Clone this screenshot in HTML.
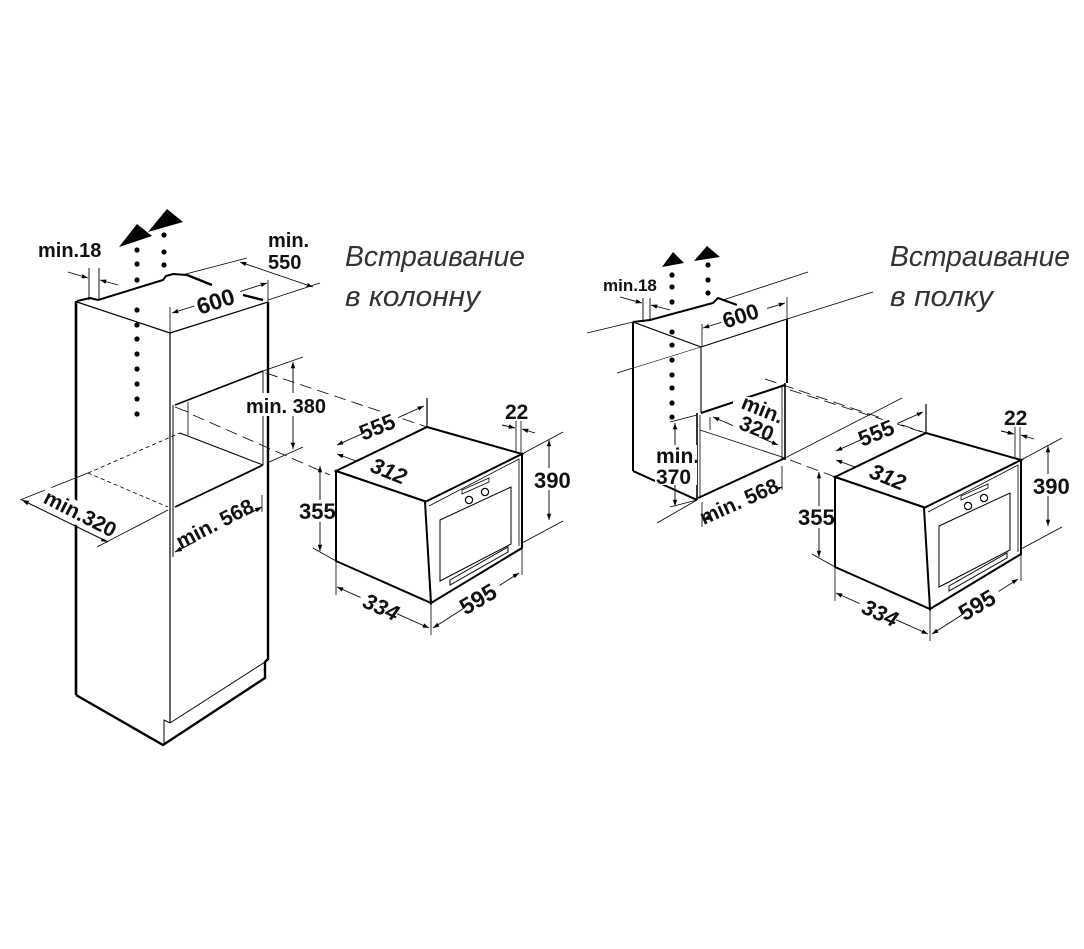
<!DOCTYPE html>
<html><head><meta charset="utf-8"><style>
html,body{margin:0;padding:0;background:#fff;}
svg{display:block}
.t{font-family:"Liberation Sans Narrow","Liberation Sans",sans-serif;font-weight:bold;fill:#111;}
.h{font-family:"Liberation Sans","DejaVu Sans",sans-serif;font-style:italic;fill:#333;font-size:29px;}
</style></head><body>
<svg width="1084" height="949" viewBox="0 0 1084 949" xmlns="http://www.w3.org/2000/svg">
<defs>
<marker id="a" viewBox="0 0 10 10" refX="10" refY="5" markerWidth="7" markerHeight="7" orient="auto-start-reverse"><path d="M0,1.5 L10,5 L0,8.5z" fill="#000"/></marker>
<g id="oven">
 <line x1="266" y1="373" x2="427" y2="427" stroke="#000" stroke-width="0.8" stroke-dasharray="12,6"/>
 <line x1="427" y1="398" x2="427" y2="427" stroke="#000" stroke-width="1.2"/>
 <line x1="337" y1="445" x2="424" y2="406" stroke="#000" stroke-width="0.9" marker-start="url(#a)" marker-end="url(#a)"/>
 <line x1="337" y1="454" x2="424" y2="486" stroke="#000" stroke-width="0.9" marker-start="url(#a)" marker-end="url(#a)"/>
 <line x1="320" y1="466" x2="320" y2="551" stroke="#000" stroke-width="0.9" marker-start="url(#a)" marker-end="url(#a)"/>
 <line x1="313" y1="548" x2="336" y2="561" stroke="#000" stroke-width="0.8"/>
 <line x1="336" y1="561" x2="336" y2="595" stroke="#000" stroke-width="0.8"/>
 <line x1="431" y1="603" x2="431" y2="635" stroke="#000" stroke-width="0.8"/>
 <line x1="337" y1="587" x2="429" y2="628" stroke="#000" stroke-width="0.9" marker-start="url(#a)" marker-end="url(#a)"/>
 <line x1="433" y1="628" x2="519" y2="573" stroke="#000" stroke-width="0.9" marker-start="url(#a)" marker-end="url(#a)"/>
 <line x1="522" y1="548" x2="522" y2="575" stroke="#000" stroke-width="0.8"/>
 <line x1="516" y1="421" x2="516" y2="454" stroke="#000" stroke-width="0.8"/>
 <line x1="521" y1="421" x2="521" y2="454" stroke="#000" stroke-width="0.8"/>
 <line x1="502" y1="425" x2="515" y2="428" stroke="#000" stroke-width="0.9" marker-end="url(#a)"/>
 <line x1="535" y1="433" x2="522" y2="429" stroke="#000" stroke-width="0.9" marker-end="url(#a)"/>
 <line x1="522" y1="454" x2="563" y2="432" stroke="#000" stroke-width="0.8"/>
 <line x1="522" y1="543" x2="563" y2="521" stroke="#000" stroke-width="0.8"/>
 <line x1="549" y1="440" x2="549" y2="520" stroke="#000" stroke-width="0.9" marker-start="url(#a)" marker-end="url(#a)"/>
 <polygon points="336,471 427,427 522,454 427,502" fill="#fff" stroke="#000" stroke-width="2"/>
 <polygon points="336,471 427,502 431,603 336,561" fill="#fff" stroke="#000" stroke-width="2"/>
 <polygon points="425,502 522,454 522,548 431,603" fill="#fff" stroke="#000" stroke-width="2"/>
 <polyline points="429,506 519,459 519,546" fill="none" stroke="#000" stroke-width="0.8"/>
 <polygon points="440,520 511,487 511,544 440,581" fill="none" stroke="#000" stroke-width="1"/>
 <polygon points="462,490 489,478 489,482 462,494" fill="#fff" stroke="#000" stroke-width="0.8"/>
 <circle cx="469" cy="500" r="3.6" fill="#fff" stroke="#000" stroke-width="1.2"/>
 <circle cx="485" cy="492" r="3.6" fill="#fff" stroke="#000" stroke-width="1.2"/>
 <polygon points="450,580 508,547 508,552 450,585" fill="#fff" stroke="#000" stroke-width="1"/>
 <rect x="362" y="416" width="38" height="20" fill="#fff" transform="rotate(-22 380 426)"/>
 <rect x="368" y="461" width="38" height="20" fill="#fff" transform="rotate(22 386 470)"/>
 <rect x="359" y="596" width="40" height="20" fill="#fff" transform="rotate(24 378 605)"/>
 <rect x="461" y="587" width="42" height="22" fill="#fff" transform="rotate(-30 482 597)"/>
 <rect x="298" y="500" width="34" height="22" fill="#fff"/>
 <text class="t" font-size="22" transform="translate(380,434) rotate(-22)" text-anchor="middle">555</text>
 <text class="t" font-size="22" transform="translate(386,478) rotate(22)" text-anchor="middle" font-style="italic">312</text>
 <text class="t" font-size="22" x="299" y="519">355</text>
 <text class="t" font-size="22" transform="translate(378,614) rotate(24)" text-anchor="middle" font-style="italic">334</text>
 <text class="t" font-size="23" transform="translate(482,606) rotate(-30)" text-anchor="middle">595</text>
 <text class="t" font-size="21" x="505" y="419">22</text>
 <rect x="533" y="468" width="36" height="22" fill="#fff"/>
 <text class="t" font-size="22" x="534" y="488">390</text>
</g>
</defs>

<g stroke="#000" fill="none">
 <line x1="20" y1="500" x2="88" y2="473" stroke-width="0.8"/>
 <line x1="88" y1="473" x2="180" y2="433" stroke-width="0.8" stroke-dasharray="4,3"/>
 <line x1="88" y1="473" x2="168" y2="507" stroke-width="0.8" stroke-dasharray="4,3"/>
 <line x1="97" y1="547" x2="168" y2="510" stroke-width="0.8"/>
 <line x1="22" y1="500" x2="108" y2="542" stroke-width="1" marker-start="url(#a)" marker-end="url(#a)"/>
 <line x1="76" y1="301" x2="76" y2="695" stroke-width="2.6"/>
 <polyline points="76,695 163,745 265,678 265,662 268,659 268,302" stroke-width="2.4"/>
 <line x1="170" y1="333" x2="170" y2="723" stroke-width="1.2"/>
 <polyline points="170,723 164,720 164,745" stroke-width="1"/>
 <line x1="170" y1="723" x2="265" y2="662" stroke-width="1"/>
 <line x1="77" y1="302" x2="170" y2="333" stroke-width="1.2"/>
 <line x1="170" y1="333" x2="268" y2="302" stroke-width="1.2"/>
 <polyline points="77,301 90,298 98,300 163,280 166,276 173,274 187,275" stroke-width="2"/>
 <line x1="187" y1="275" x2="212" y2="285" stroke-width="2.4"/>
 <line x1="243" y1="295" x2="263" y2="300" stroke-width="2.4"/>
 <line x1="175" y1="405" x2="263" y2="371" stroke-width="1.6"/>
 <line x1="173" y1="405" x2="173" y2="557" stroke-width="1"/>
 <line x1="188" y1="402" x2="188" y2="435" stroke-width="0.8"/>
 <line x1="175" y1="407" x2="188" y2="412" stroke-width="0.8"/>
 <line x1="180" y1="433" x2="263" y2="465" stroke-width="1.1"/>
 <line x1="175" y1="507" x2="263" y2="465" stroke-width="1.8"/>
 <line x1="263" y1="371" x2="263" y2="465" stroke-width="0.9"/>
 <line x1="193" y1="415" x2="330" y2="475" stroke-width="0.8" stroke-dasharray="12,6"/>
 <line x1="263" y1="371" x2="303" y2="357" stroke-width="0.8"/>
 <line x1="267" y1="463" x2="303" y2="447" stroke-width="0.8"/>
 <line x1="293" y1="362" x2="293" y2="449" stroke-width="0.9" marker-start="url(#a)" marker-end="url(#a)"/>
 <line x1="175" y1="552" x2="262" y2="507" stroke-width="1" marker-start="url(#a)" marker-end="url(#a)"/>
 <line x1="262" y1="495" x2="262" y2="512" stroke-width="0.8"/>
 <line x1="89" y1="268" x2="89" y2="300" stroke-width="0.9"/>
 <line x1="99" y1="268" x2="99" y2="300" stroke-width="0.9"/>
 <line x1="68" y1="272" x2="88" y2="278" stroke-width="0.9" marker-end="url(#a)"/>
 <line x1="118" y1="285" x2="100" y2="280" stroke-width="0.9" marker-end="url(#a)"/>
 <line x1="170" y1="307" x2="170" y2="333" stroke-width="0.8"/>
 <line x1="268" y1="280" x2="268" y2="302" stroke-width="0.8"/>
 <line x1="172" y1="313" x2="267" y2="283" stroke-width="0.9" marker-start="url(#a)" marker-end="url(#a)"/>
 <line x1="182" y1="275" x2="247" y2="258" stroke-width="0.8"/>
 <line x1="268" y1="300" x2="320" y2="283" stroke-width="0.8"/>
 <line x1="240" y1="262" x2="313" y2="287" stroke-width="0.9" marker-start="url(#a)" marker-end="url(#a)"/>
</g>
<rect x="194" y="288" width="48" height="24" fill="#fff" transform="rotate(-18 218 301)"/>
<rect x="190" y="511" width="56" height="22" fill="#fff" transform="rotate(-27 218 522)"/>
<rect x="38" y="502" width="78" height="22" fill="#fff" transform="rotate(27 77 513)"/>
<rect x="246" y="393" width="77" height="23" fill="#fff"/>
<g fill="#000">
 <circle cx="137" cy="250" r="2.6"/><circle cx="137" cy="264" r="2.6"/><circle cx="137" cy="280" r="2.6"/>
 <circle cx="137" cy="310" r="2.6"/><circle cx="137" cy="325" r="2.6"/><circle cx="137" cy="339" r="2.6"/>
 <circle cx="137" cy="354" r="2.6"/><circle cx="137" cy="369" r="2.6"/><circle cx="137" cy="384" r="2.6"/>
 <circle cx="137" cy="399" r="2.6"/><circle cx="137" cy="414" r="2.6"/>
 <circle cx="164" cy="235" r="2.6"/><circle cx="164" cy="252" r="2.6"/><circle cx="164" cy="265" r="2.6"/>
 <polygon points="119,247 137,224 152,236"/>
 <polygon points="148,232 167,209 183,222"/>
</g>
<text class="t" font-size="20" x="38" y="257">min.18</text>
<text class="t" font-size="20" x="268" y="247">min.</text>
<text class="t" font-size="20" x="268" y="269">550</text>
<text class="t" font-size="23" transform="translate(218,309) rotate(-18)" text-anchor="middle">600</text>
<text class="t" font-size="20" x="246" y="413">min. 380</text>
<text class="t" font-size="21" transform="translate(77,520) rotate(27)" text-anchor="middle">min.320</text>
<text class="t" font-size="21" transform="translate(218,530) rotate(-27)" text-anchor="middle">min. 568</text>
<text class="h" x="345" y="266" textLength="180" lengthAdjust="spacingAndGlyphs">Встраивание</text>
<text class="h" x="345" y="306" textLength="135" lengthAdjust="spacingAndGlyphs">в колонну</text>

<use href="#oven"/>

<g stroke="#000" fill="none">
 <line x1="587" y1="333" x2="633" y2="322" stroke-width="0.8"/>
 <line x1="723" y1="300" x2="808" y2="272" stroke-width="0.8"/>
 <line x1="617" y1="373" x2="633" y2="368" stroke-width="0.8"/>
 <line x1="633" y1="368" x2="701" y2="347" stroke-width="0.6"/>
 <line x1="787" y1="319" x2="873" y2="292" stroke-width="0.8"/>
 <line x1="657" y1="523" x2="697" y2="500" stroke-width="0.8"/>
 <line x1="785" y1="458" x2="902" y2="398" stroke-width="0.8"/>
 <line x1="790" y1="390" x2="925" y2="433" stroke-width="0.8" stroke-dasharray="12,6"/>
 <line x1="790" y1="460" x2="838" y2="478" stroke-width="0.8" stroke-dasharray="12,6"/>
 <line x1="633" y1="322" x2="633" y2="471" stroke-width="2"/>
 <line x1="633" y1="471" x2="697" y2="500" stroke-width="2"/>
 <line x1="633" y1="322" x2="701" y2="347" stroke-width="1.1"/>
 <line x1="701" y1="347" x2="787" y2="319" stroke-width="1.1"/>
 <line x1="701" y1="347" x2="701" y2="413" stroke-width="1.1"/>
 <line x1="787" y1="319" x2="787" y2="383" stroke-width="2"/>
 <polyline points="633,322 650,320 713,303 718,298 737,305" stroke-width="2"/>
 <line x1="701" y1="413" x2="785" y2="385" stroke-width="2"/>
 <line x1="697" y1="413" x2="697" y2="500" stroke-width="1.6"/>
 <line x1="700" y1="415" x2="700" y2="497" stroke-width="0.8"/>
 <line x1="710" y1="417" x2="710" y2="430" stroke-width="0.8"/>
 <line x1="700" y1="430" x2="785" y2="458" stroke-width="0.8"/>
 <line x1="698" y1="498" x2="785" y2="458" stroke-width="2"/>
 <line x1="782" y1="385" x2="782" y2="460" stroke-width="0.8"/>
 <line x1="785" y1="383" x2="785" y2="460" stroke-width="1.6"/>
 <line x1="643" y1="298" x2="643" y2="322" stroke-width="0.9"/>
 <line x1="650" y1="298" x2="650" y2="320" stroke-width="0.9"/>
 <line x1="620" y1="297" x2="642" y2="303" stroke-width="0.9" marker-end="url(#a)"/>
 <line x1="670" y1="310" x2="651" y2="305" stroke-width="0.9" marker-end="url(#a)"/>
 <line x1="702" y1="324" x2="702" y2="347" stroke-width="0.8"/>
 <line x1="787" y1="297" x2="787" y2="319" stroke-width="0.8"/>
 <line x1="703" y1="328" x2="785" y2="303" stroke-width="0.9" marker-start="url(#a)" marker-end="url(#a)"/>
 <line x1="713" y1="417" x2="778" y2="445" stroke-width="0.9" marker-start="url(#a)" marker-end="url(#a)"/>
 <line x1="670" y1="422" x2="697" y2="415" stroke-width="0.8"/>
 <line x1="670" y1="507" x2="697" y2="500" stroke-width="0.8"/>
 <line x1="675" y1="423" x2="675" y2="506" stroke-width="0.9" marker-start="url(#a)" marker-end="url(#a)"/>
 <line x1="702" y1="502" x2="702" y2="527" stroke-width="0.8"/>
 <line x1="782" y1="466" x2="782" y2="490" stroke-width="0.8"/>
 <line x1="703" y1="520" x2="782" y2="487" stroke-width="1" marker-start="url(#a)" marker-end="url(#a)"/>
</g>
<rect x="720" y="304" width="48" height="23" fill="#fff" transform="rotate(-18 743 315)"/>
<rect x="733" y="397" width="48" height="40" fill="#fff"/>
<rect x="655" y="445" width="42" height="40" fill="#fff"/>
<rect x="706" y="489" width="74" height="22" fill="#fff" transform="rotate(-24 742 500)"/>
<g fill="#000">
 <circle cx="672" cy="275" r="2.6"/><circle cx="672" cy="287" r="2.6"/><circle cx="672" cy="302" r="2.6"/>
 <circle cx="672" cy="332" r="2.6"/><circle cx="672" cy="345" r="2.6"/><circle cx="672" cy="360" r="2.6"/>
 <circle cx="672" cy="375" r="2.6"/><circle cx="672" cy="388" r="2.6"/><circle cx="672" cy="403" r="2.6"/>
 <circle cx="672" cy="417" r="2.6"/>
 <circle cx="708" cy="265" r="2.6"/><circle cx="708" cy="280" r="2.6"/><circle cx="708" cy="293" r="2.6"/>
 <polygon points="662,267 673,252 684,263"/>
 <polygon points="694,261 707,246 720,257"/>
</g>
<text class="t" font-size="17" x="603" y="291">min.18</text>
<text class="t" font-size="22" transform="translate(743,323) rotate(-18)" text-anchor="middle">600</text>
<text class="t" font-size="21" transform="translate(760,416) rotate(22)" text-anchor="middle">min.</text>
<text class="t" font-size="21" transform="translate(754,435) rotate(22)" text-anchor="middle">320</text>
<text class="t" font-size="21" x="656" y="463">min.</text>
<text class="t" font-size="21" x="656" y="484">370</text>
<text class="t" font-size="21" transform="translate(742,508) rotate(-24)" text-anchor="middle">min. 568</text>
<text class="h" x="890" y="266" textLength="180" lengthAdjust="spacingAndGlyphs">Встраивание</text>
<text class="h" x="890" y="306" textLength="103" lengthAdjust="spacingAndGlyphs">в полку</text>

<use href="#oven" transform="translate(499,6)"/>
</svg>
</body></html>
